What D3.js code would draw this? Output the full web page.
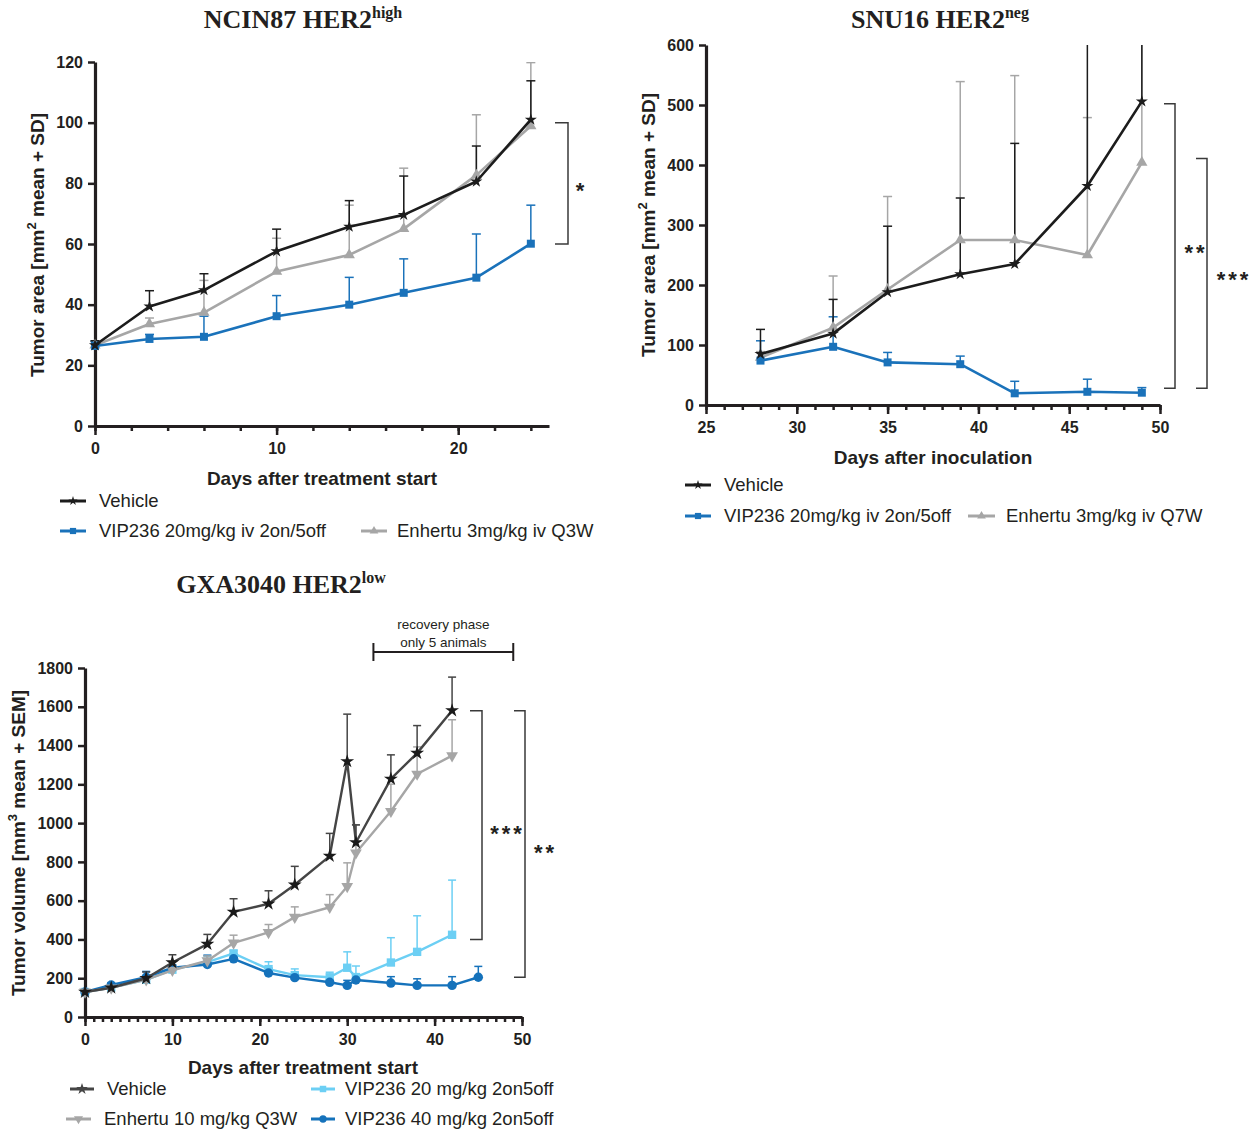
<!DOCTYPE html>
<html><head><meta charset="utf-8">
<script src="https://cdn.jsdelivr.net/npm/d3@7"></script>
<style>body{margin:0;background:#fff;} svg{display:block;}</style>
</head><body>
<svg id="c" width="1260" height="1132"></svg>
<script>
// ---------------- DATA ----------------
// Panel A: NCIN87 HER2high (mean + SD)
const daysA = [0, 3, 6, 10, 14, 17, 21, 24];
const vehA = [26.6, 39.4, 44.8, 57.6, 65.7, 69.6, 80.6, 101];
const vehA_sd = [1.5, 5.2, 5.4, 7.3, 8.6, 12.8, 11.7, 12.8];
const vipA = [26.4, 28.7, 29.4, 36.2, 40, 43.9, 48.9, 60.1];
const vipA_sd = [1.5, 1.5, 6.8, 6.8, 9, 11.2, 14.4, 12.7];
const enhA = [26.6, 33.6, 37.4, 50.9, 56.4, 65, 82.7, 98.9];
const enhA_sd = [1.2, 2, 10.6, 11, 16.4, 20, 19.9, 20.9];
const xMajorA = [0, 10, 20];
const xMinorA = [0, 2, 4, 6, 8, 10, 12, 14, 16, 18, 20, 22, 24];
const yTicksA = [0, 20, 40, 60, 80, 100, 120];
const legendA = ["Vehicle", "VIP236 20mg/kg iv 2on/5off", "Enhertu 3mg/kg iv Q3W"];

// Panel B: SNU16 HER2neg (mean + SD)
const daysB = [28, 32, 35, 39, 42, 46, 49];
const vehB = [85, 119, 188, 218, 235, 365, 506];
const vehB_sd = [41, 57, 110, 127, 201, 300, 250];
const vipB = [74, 97, 71, 68, 19.5, 22, 20.5];
const vipB_sd = [33, 50, 16.6, 13.5, 20, 21, 8.5];
const enhB = [79, 129, 192.5, 275, 275, 250, 404];
const enhB_sd = [10, 86, 155, 264, 274, 229, 250];
const xMajorB = [25, 30, 35, 40, 45, 50];
const xMinorB = d3.range(25, 51);
const yTicksB = [0, 100, 200, 300, 400, 500, 600];
const legendB = ["Vehicle", "VIP236 20mg/kg iv 2on/5off", "Enhertu 3mg/kg iv Q7W"];

// Panel C: GXA3040 HER2low (mean + SEM)
const daysC = [0, 3, 7, 10, 14, 17, 21, 24, 28, 30, 31, 35, 38, 42];
const daysC40 = [0, 3, 7, 10, 14, 17, 21, 24, 28, 30, 31, 35, 38, 42, 45];
const vehC = [129, 151, 200, 281, 376, 542, 584, 682, 830, 1318, 900, 1228, 1361, 1581];
const vehC_sem = [5, 10, 32, 40, 50, 68, 67, 95, 117, 244, 91, 124, 142, 172];
const enhC = [129, 150, 193, 241, 290, 382, 436, 515, 566, 673, 847, 1061, 1253, 1348];
const enhC_sem = [4, 8, 15, 20, 25, 40, 41, 53, 65, 122, 143, 140, 140, 185];
const vip20C = [129, 152, 192, 244, 283, 328, 247, 216, 205, 254, 206, 281, 336, 424];
const vip20C_sem = [4, 10, 15, 12, 30, 15, 38, 32, 26, 82, 57, 128, 186, 282];
const vip40C = [129, 165, 205, 254, 271, 300, 227, 203, 179, 163, 191, 175, 163, 163, 205];
const vip40C_sem = [4, 12, 30, 15, 48, 25, 25, 20, 15, 26, 29, 33, 34, 45, 56];
const xMajorC = [0, 10, 20, 30, 40, 50];
const xMinorC = d3.range(0, 51);
const yTicksC = [0, 200, 400, 600, 800, 1000, 1200, 1400, 1600, 1800];
const legendC = ["Vehicle", "VIP236 20 mg/kg 2on5off", "Enhertu 10 mg/kg Q3W", "VIP236 40 mg/kg 2on5off"];

// ---------------- STYLE ----------------
const SANS = "'Liberation Sans', Arial, Helvetica, sans-serif";
const SERIF = "'Liberation Serif', 'Times New Roman', serif";
const AX = "#231f20";
const C_BLACK = "#1c1c1c", C_BLUE = "#1a72ba", C_GRAY = "#a6a6a6";
const C_DGRAY = "#454545", C_CYAN = "#6ccff4", C_DBLUE = "#1572bb";

const svg = d3.select('#c');
const defs = svg.append('defs');

function sym(type, size) {
  const t = {star: d3.symbolStar, square: d3.symbolSquare, tri: d3.symbolTriangle,
             triDown: d3.symbolTriangle, circle: d3.symbolCircle}[type];
  return d3.symbol().type(t).size(size)();
}
function symRot(type) { return type === 'triDown' ? ' rotate(180)' : ''; }

function drawPanel(p) {
  const g = svg.append('g');
  const x = d3.scaleLinear().domain(p.xDomain).range([p.left, p.right]);
  const y = d3.scaleLinear().domain(p.yDomain).range([p.bottom, p.top]);
  defs.append('clipPath').attr('id', 'clip' + p.id).append('rect')
    .attr('x', p.left - 15).attr('y', p.top).attr('width', p.right - p.left + 30)
    .attr('height', p.bottom - p.top + 15);

  // axes
  const gMinor = g.append('g').attr('transform', `translate(0,${p.bottom})`)
    .call(d3.axisBottom(x).tickValues(p.xMinor).tickSize(5).tickFormat('').tickSizeOuter(0));
  gMinor.select('.domain').remove();
  const gx = g.append('g').attr('transform', `translate(0,${p.bottom})`)
    .call(d3.axisBottom(x).tickValues(p.xMajor).tickSize(9).tickPadding(8)
      .tickFormat(d3.format('d')).tickSizeOuter(0));
  const gy = g.append('g').attr('transform', `translate(${p.left},0)`)
    .call(d3.axisLeft(y).tickValues(p.yTicks).tickSize(7).tickPadding(5)
      .tickFormat(d3.format('d')).tickSizeOuter(0));
  [gMinor, gx, gy].forEach(a => {
    a.selectAll('.tick line').attr('stroke', AX).attr('stroke-width', 2.5);
    a.select('.domain').attr('stroke', AX).attr('stroke-width', 3.2);
    a.selectAll('text').attr('fill', AX).attr('font-family', SANS)
      .attr('font-weight', 'bold').attr('font-size', 16);
  });

  const plot = g.append('g').attr('clip-path', `url(#clip${p.id})`);
  // error bars
  p.series.forEach(s => {
    const eg = plot.append('g').attr('stroke', s.color).attr('stroke-width', 1.5).attr('fill', 'none');
    s.days.forEach((d, i) => {
      const xx = x(d), y0 = y(s.mean[i]), y1 = y(s.mean[i] + s.err[i]);
      eg.append('line').attr('x1', xx).attr('x2', xx).attr('y1', y0).attr('y2', y1);
      eg.append('line').attr('x1', xx - p.cap).attr('x2', xx + p.cap).attr('y1', y1).attr('y2', y1);
    });
  });
  // lines + markers
  p.series.forEach(s => {
    const pts = s.days.map((d, i) => [d, s.mean[i]]);
    plot.append('path').datum(pts)
      .attr('d', d3.line().x(d => x(d[0])).y(d => y(d[1])))
      .attr('fill', 'none').attr('stroke', s.color).attr('stroke-width', p.lw)
      .attr('stroke-linejoin', 'round');
    plot.selectAll(null).data(pts).enter().append('path')
      .attr('d', sym(s.symbol, s.size))
      .attr('transform', d => `translate(${x(d[0])},${y(d[1])})${symRot(s.symbol)}`)
      .attr('fill', s.mcolor || s.color);
  });

  // title
  const t = svg.append('text').attr('x', p.titleX).attr('y', p.titleY)
    .attr('text-anchor', 'middle').attr('font-family', SERIF).attr('font-weight', 'bold')
    .attr('font-size', 26).attr('fill', AX);
  t.append('tspan').text(p.title);
  t.append('tspan').attr('font-size', 16).attr('dy', -10).text(p.titleSup);

  // x title
  svg.append('text').attr('x', p.xTitleX).attr('y', p.xTitleY).attr('text-anchor', 'middle')
    .attr('font-family', SANS).attr('font-weight', 'bold').attr('font-size', 19)
    .attr('fill', AX).text(p.xTitle);
  // y title
  const yt = svg.append('text')
    .attr('transform', `translate(${p.yTitleX},${p.yTitleY}) rotate(-90)`)
    .attr('text-anchor', 'middle').attr('dy', '0.35em')
    .attr('font-family', SANS).attr('font-weight', 'bold').attr('font-size', 19).attr('fill', AX);
  yt.append('tspan').text(p.yTitle[0]);
  yt.append('tspan').attr('font-size', 13).attr('dy', -8).text(p.yTitle[1]);
  yt.append('tspan').attr('dy', 8).text(p.yTitle[2]);

  // significance brackets
  p.brackets.forEach(b => {
    const bx = b.x, ya = y(b.from), yb = y(b.to);
    svg.append('path').attr('d', `M${bx - b.w},${ya}H${bx}V${yb}H${bx - b.w}`)
      .attr('fill', 'none').attr('stroke', '#3a3a3a').attr('stroke-width', 1.5);
    svg.append('text').attr('x', b.tx + 1.5).attr('y', b.ty + 12.5).attr('text-anchor', 'middle')
      .attr('font-family', SANS).attr('font-weight', 'bold').attr('font-size', 22).attr('fill', AX)
      .attr('letter-spacing', 3).text(b.label);
  });

  // legend
  p.legend.forEach(l => {
    svg.append('line').attr('x1', l.x1).attr('x2', l.x2).attr('y1', l.y).attr('y2', l.y)
      .attr('stroke', l.color).attr('stroke-width', 3);
    svg.append('path').attr('d', sym(l.symbol, l.size * 0.6))
      .attr('transform', `translate(${(l.x1 + l.x2) / 2},${l.y})${symRot(l.symbol)}`)
      .attr('fill', l.color);
    svg.append('text').attr('x', l.tx).attr('y', l.y).attr('dy', '0.35em')
      .attr('font-family', SANS).attr('font-size', 18.5).attr('fill', AX).text(l.text);
  });
  return {x, y};
}

// ---------------- PANEL A ----------------
drawPanel({
  id: 'A', left: 95, right: 549, top: 62, bottom: 426,
  xDomain: [0, 25], yDomain: [0, 120], xMajor: xMajorA, xMinor: xMinorA, yTicks: yTicksA,
  cap: 4.5, lw: 2.6,
  series: [
    {days: daysA, mean: enhA, err: enhA_sd, color: C_GRAY, symbol: 'tri', size: 55},
    {days: daysA, mean: vipA, err: vipA_sd, color: C_BLUE, symbol: 'square', size: 64},
    {days: daysA, mean: vehA, err: vehA_sd, color: C_BLACK, symbol: 'star', size: 45},
  ],
  title: 'NCIN87 HER2', titleSup: 'high', titleX: 303, titleY: 28,
  xTitle: 'Days after treatment start', xTitleX: 322, xTitleY: 485,
  yTitle: ['Tumor area [mm', '2', ' mean + SD]'], yTitleX: 37, yTitleY: 245,
  brackets: [{x: 568, w: 13, from: 100, to: 60, tx: 580, ty: 185, label: '*'}],
  legend: [
    {x1: 60, x2: 86, y: 501, color: C_BLACK, symbol: 'star', size: 45, tx: 99, text: legendA[0]},
    {x1: 60, x2: 86, y: 531, color: C_BLUE, symbol: 'square', size: 64, tx: 99, text: legendA[1]},
    {x1: 361, x2: 387, y: 531, color: C_GRAY, symbol: 'tri', size: 55, tx: 397, text: legendA[2]},
  ]
});

// ---------------- PANEL B ----------------
drawPanel({
  id: 'B', left: 706, right: 1160, top: 45, bottom: 405,
  xDomain: [25, 50], yDomain: [0, 600], xMajor: xMajorB, xMinor: xMinorB, yTicks: yTicksB,
  cap: 4.5, lw: 2.6,
  series: [
    {days: daysB, mean: enhB, err: enhB_sd, color: C_GRAY, symbol: 'tri', size: 55},
    {days: daysB, mean: vipB, err: vipB_sd, color: C_BLUE, symbol: 'square', size: 64},
    {days: daysB, mean: vehB, err: vehB_sd, color: C_BLACK, symbol: 'star', size: 45},
  ],
  title: 'SNU16 HER2', titleSup: 'neg', titleX: 940, titleY: 28,
  xTitle: 'Days after inoculation', xTitleX: 933, xTitleY: 464,
  yTitle: ['Tumor area [mm', '2', ' mean + SD]'], yTitleX: 648, yTitleY: 225,
  brackets: [
    {x: 1175, w: 11, from: 502, to: 28, tx: 1194.5, ty: 247, label: '**'},
    {x: 1207, w: 11, from: 411, to: 28, tx: 1232.5, ty: 274, label: '***'},
  ],
  legend: [
    {x1: 685, x2: 711, y: 485, color: C_BLACK, symbol: 'star', size: 45, tx: 724, text: legendB[0]},
    {x1: 685, x2: 711, y: 516, color: C_BLUE, symbol: 'square', size: 64, tx: 724, text: legendB[1]},
    {x1: 968, x2: 995, y: 516, color: C_GRAY, symbol: 'tri', size: 55, tx: 1006, text: legendB[2]},
  ]
});

// ---------------- PANEL C ----------------
const sc = drawPanel({
  id: 'C', left: 85, right: 522, top: 668, bottom: 1017,
  xDomain: [0, 50], yDomain: [0, 1800], xMajor: xMajorC, xMinor: xMinorC, yTicks: yTicksC,
  cap: 4, lw: 2.4,
  series: [
    {days: daysC, mean: vip20C, err: vip20C_sem, color: C_CYAN, symbol: 'square', size: 70},
    {days: daysC40, mean: vip40C, err: vip40C_sem, color: C_DBLUE, symbol: 'circle', size: 70},
    {days: daysC, mean: enhC, err: enhC_sem, color: C_GRAY, symbol: 'triDown', size: 60},
    {days: daysC, mean: vehC, err: vehC_sem, color: C_DGRAY, symbol: 'star', size: 60, mcolor: '#1a1a1a'},
  ],
  title: 'GXA3040 HER2', titleSup: 'low', titleX: 281, titleY: 593,
  xTitle: 'Days after treatment start', xTitleX: 303, xTitleY: 1074,
  yTitle: ['Tumor volume [mm', '3', ' mean + SEM]'], yTitleX: 18, yTitleY: 843,
  brackets: [
    {x: 482, w: 12, from: 1580, to: 400, tx: 506, ty: 828, label: '***'},
    {x: 525, w: 11, from: 1580, to: 205, tx: 544, ty: 847, label: '**'},
  ],
  legend: [
    {x1: 70, x2: 94, y: 1089, color: C_DGRAY, symbol: 'star', size: 70, tx: 107, text: legendC[0]},
    {x1: 311, x2: 335, y: 1089, color: C_CYAN, symbol: 'square', size: 70, tx: 345, text: legendC[1]},
    {x1: 66, x2: 91, y: 1119, color: C_GRAY, symbol: 'triDown', size: 60, tx: 104, text: legendC[2]},
    {x1: 311, x2: 335, y: 1119, color: C_DBLUE, symbol: 'circle', size: 70, tx: 345, text: legendC[3]},
  ]
});

// recovery phase bracket (days 33 to 49)
(function () {
  const xa = sc.x(33), xb = sc.x(49), yy = 652;
  svg.append('path').attr('d', `M${xa},${yy - 9}V${yy + 9}M${xa},${yy}H${xb}M${xb},${yy - 9}V${yy + 9}`)
    .attr('stroke', AX).attr('stroke-width', 2).attr('fill', 'none');
  svg.append('text').attr('x', (xa + xb) / 2).attr('y', 629).attr('text-anchor', 'middle')
    .attr('font-family', SANS).attr('font-size', 13.5).attr('fill', AX).text('recovery phase');
  svg.append('text').attr('x', (xa + xb) / 2).attr('y', 647).attr('text-anchor', 'middle')
    .attr('font-family', SANS).attr('font-size', 13.5).attr('fill', AX).text('only 5 animals');
})();
</script>
</body></html>
